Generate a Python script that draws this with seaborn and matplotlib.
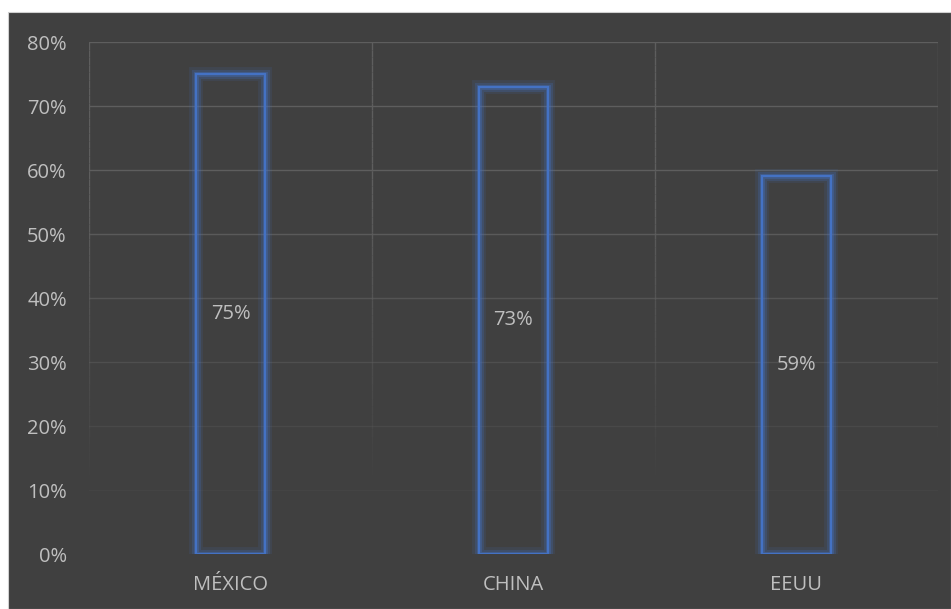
import matplotlib
matplotlib.use("Agg")
import matplotlib.pyplot as plt
import matplotlib.patheffects as pe
from matplotlib.patches import Rectangle
from matplotlib.collections import LineCollection
import numpy as np
import pandas as pd
import seaborn as sns

categories = ["MÉXICO", "CHINA", "EEUU"]
values = [0.75, 0.73, 0.59]
value_labels = ["75%", "73%", "59%"]
tick_values = [0, 0.1, 0.2, 0.3, 0.4, 0.5, 0.6, 0.7, 0.8]
tick_labels = ["0%", "10%", "20%", "30%", "40%", "50%", "60%", "70%", "80%"]

sns.set_theme(style="dark")
plt.rcParams["font.family"] = ["Open Sans", "DejaVu Sans"]

BG = "#404040"
TXT = "#bfbfbf"
GRID = "#5e5e5e"
BLUE = "#4472c4"
FS = 14.5

fig = plt.figure(figsize=(9.51, 6.09), dpi=100)
fig.patch.set_facecolor("white")
fig.add_artist(Rectangle((8 / 951, 0), 1 - 8 / 951, 1 - 12 / 609,
                         transform=fig.transFigure, facecolor=BG,
                         edgecolor="#d0d0d0", lw=0.8, zorder=0))
ax = fig.add_axes([89 / 951, 1 - 554 / 609, (938 - 89) / 951, (554 - 42) / 609])
ax.set_facecolor("none")

df = pd.DataFrame({"cat": categories, "val": values})
sns.barplot(data=df, x="cat", y="val", ax=ax, width=0.245,
            facecolor="none", edgecolor=BLUE, linewidth=1.6, zorder=3)

for p in ax.patches:
    p.set_path_effects([
        pe.Stroke(linewidth=10, foreground=BLUE, alpha=0.12),
        pe.Stroke(linewidth=6.5, foreground=BLUE, alpha=0.22),
        pe.Stroke(linewidth=3.5, foreground=BLUE, alpha=0.35),
        pe.Normal(),
    ])

ax.set_ylim(0, 0.8)
ax.set_xlim(-0.5, len(categories) - 0.5)

# fading horizontal gridlines
for t in tick_values:
    a = max(0.0, min(1.0, (t - 0.02) / 0.55))
    if a > 0:
        ax.axhline(t, color=GRID, lw=1.0, alpha=a, zorder=1)

# fading vertical gridlines at category boundaries
ys = np.linspace(0.1, 0.8, 60)
for xb in [-0.5, 0.5, 1.5, 2.5]:
    segs = [[(xb, ys[i]), (xb, ys[i + 1])] for i in range(len(ys) - 1)]
    alphas = [max(0.0, min(1.0, (ys[i] - 0.1) / 0.45)) for i in range(len(ys) - 1)]
    cols = [(0x5e / 255, 0x5e / 255, 0x5e / 255, a) for a in alphas]
    ax.add_collection(LineCollection(segs, colors=cols, lw=1.0, zorder=1))

for i, (v, lab) in enumerate(zip(values, value_labels)):
    ax.text(i, v / 2, lab, ha="center", va="center", color=TXT, fontsize=FS, zorder=4)

ax.set_yticks(tick_values)
ax.set_yticklabels(tick_labels)
ax.tick_params(axis="y", colors=TXT, labelsize=FS, length=0, pad=16)
ax.tick_params(axis="x", colors=TXT, labelsize=FS, length=0, pad=15)
ax.set_xlabel("")
ax.set_ylabel("")
ax.grid(False)
for s in ax.spines.values():
    s.set_visible(False)

fig.savefig("out.png", dpi=100, facecolor=fig.get_facecolor())
